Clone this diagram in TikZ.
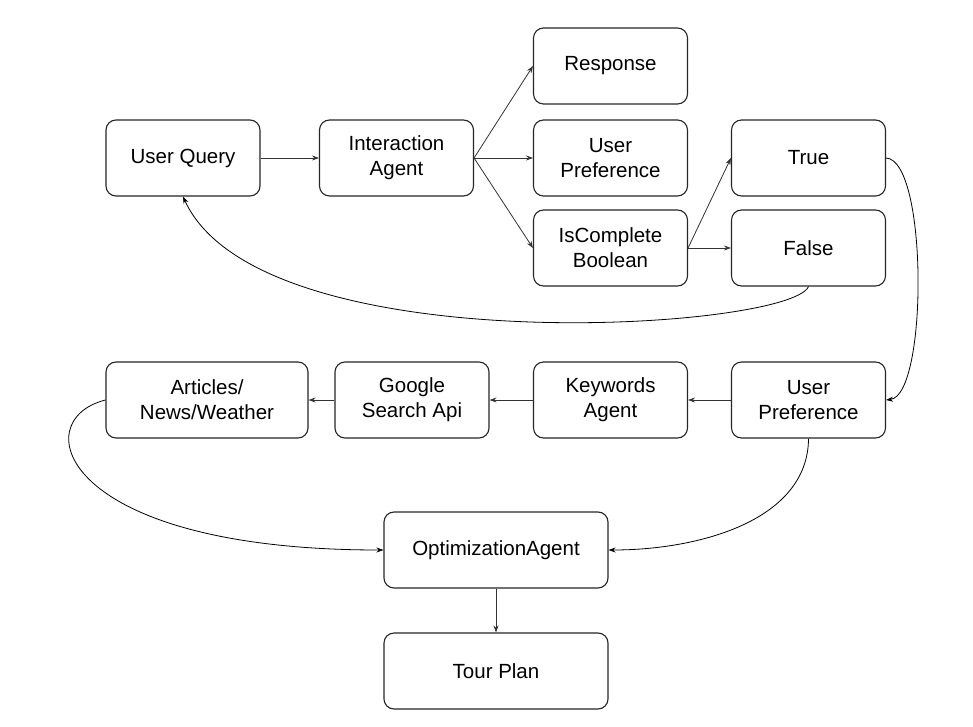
\documentclass[tikz,border=0pt]{standalone}
\usepackage{fontspec}
\setmainfont{Liberation Sans}
\usetikzlibrary{arrows.meta}
\begin{document}
\begin{tikzpicture}[x=1pt,y=-1pt,
  box/.style={draw=black!85, line width=1.1pt, rounded corners=10pt, fill=white,
    minimum width=154pt, minimum height=76pt, align=center,
    font=\fontsize{20.5}{25}\selectfont, inner sep=0pt},
  wbox/.style={box, minimum width=224pt},
  conn/.style={draw=black!80, line width=0.8pt, -{Stealth[length=7pt,width=5pt]}},
  curv/.style={draw=black, line width=0.8pt, -{Stealth[length=7pt,width=5pt]}}]
\useasboundingbox (0,0) rectangle (973,727);
\fill[white] (0,0) rectangle (973,727);
\node[box] (resp) at (610.5,66) {Response};
\node[box] (uq) at (183,158) {User Query};
\node[box] (ia) at (396.5,158) {Interaction\\Agent};
\node[box] (up1) at (610.5,158) {User\\Preference};
\node[box] (tru) at (808.5,158) {True};
\node[box] (isc) at (610.5,248) {IsComplete\\Boolean};
\node[box] (fal) at (808.5,248) {False};
\node[box, minimum width=202pt] (art) at (207,400) {Articles/\\News/Weather};
\node[box] (goo) at (412,400) {Google\\Search Api};
\node[box] (kw) at (610.5,400) {Keywords\\Agent};
\node[box] (up2) at (808.5,400) {User\\Preference};
\node[wbox] (opt) at (496,550) {OptimizationAgent};
\node[wbox] (tp) at (496,671) {Tour Plan};

\draw[conn] (uq.east) -- (ia.west);
\draw[conn] (ia.east) -- (resp.west);
\draw[conn] (ia.east) -- (up1.west);
\draw[conn] (ia.east) -- (isc.west);
\draw[conn] (isc.east) -- (tru.west);
\draw[conn] (isc.east) -- (fal.west);
\draw[conn] (up2.west) -- (kw.east);
\draw[conn] (kw.west) -- (goo.east);
\draw[conn] (goo.west) -- (art.east);
\draw[conn] (opt.south) -- (tp.north);

\draw[curv] (tru.east) .. controls (928,160) and (928,395) .. (up2.east);
\draw[curv] (fal.south) .. controls (790,330) and (260,365) .. (uq.south);
\draw[curv] (art.west) .. controls (25,420) and (60,550) .. (opt.west);
\draw[curv] (up2.south) .. controls (808,520) and (700,550) .. (opt.east);
\end{tikzpicture}
\end{document}
